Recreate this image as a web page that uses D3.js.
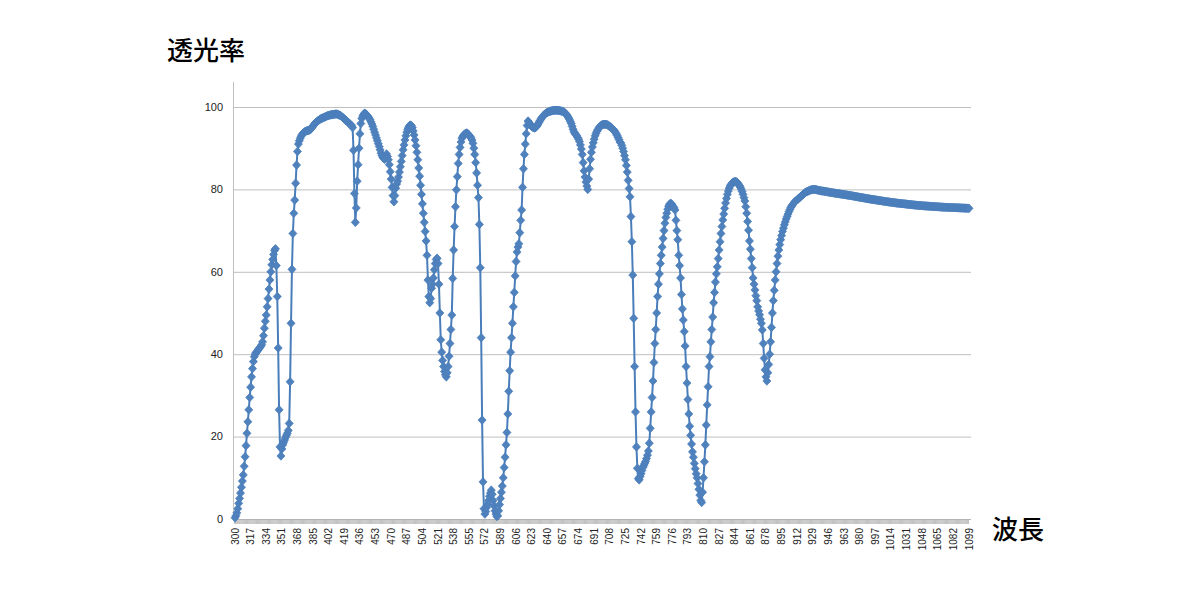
<!DOCTYPE html>
<html><head><meta charset="utf-8">
<script src="https://cdn.jsdelivr.net/npm/d3@7"></script>
<style>
html,body{margin:0;padding:0;background:#fff;}
svg{display:block;}
</style></head>
<body>
<svg id="chart" width="1199" height="606"></svg>
<script>
// Wavelength categories (nm) and axis texts
const wavelengths = d3.range(300, 1100);
const yTicks = [0, 20, 40, 60, 80, 100];
const yTitle = "透光率";
const xTitle = "波長";

// Transmittance (%) per 1 nm
const T300 = [
0.3,0.8,1.5,2.5,3.8,5,6.3,7.7,9.2,10.7,
12.8,15.1,17.8,20.8,23.6,26.5,29.5,32,34.5,36.5,
38.2,39.4,40,40.4,40.7,41,41.3,41.6,41.9,42.3,
43,44.5,46.3,48,49.5,51.5,53.5,55.8,58,60,
61.7,63,64.2,65.2,65.6,61.5,54,41.5,26.5,17.5,
15.3,17,18,18.6,19.2,19.8,20.3,20.8,21.5,23.2,
33.3,47.5,60.6,69.3,74.2,77.4,81.5,85.9,89.2,91,
91.8,92.4,92.9,93.3,93.6,93.8,94,94.1,94.2,94.3,
94.3,94.4,94.5,94.8,95.1,95.4,95.7,96,96.2,96.4,
96.6,96.8,96.9,97.1,97.2,97.3,97.4,97.5,97.6,97.7];
const T400 = [
97.8,97.9,98,98,98.1,98.1,98.2,98.2,98.2,98.3,
98.3,98.3,98.2,98.1,98,97.9,97.7,97.5,97.3,97.1,
96.9,96.7,96.5,96.3,96.1,95.9,95.7,95.5,95,89.5,
79,72,75.5,82,86,90,93.5,96,97.2,97.8,
98.2,98.5,98.4,98.2,97.9,97.6,97.3,96.9,96.4,95.9,
95.3,94.6,93.9,93.2,92.5,91.8,91.1,90.4,89.6,88.8,
88.2,87.8,87.5,87.3,88,88.6,88,87.2,86,84.3,
82.5,80.5,78.5,77,78.5,80.3,81.3,82,83,84.2,
85.5,86.8,88.2,89.6,90.8,92,93,93.9,94.6,95.1,
95.5,95.6,95.5,95,94.2,93.2,92,90.6,89,87.2];
const T500 = [
85.2,83.2,81,78.8,76.5,74.2,72,69.8,67.5,64,
58,54,52.5,53.5,56,57,58.5,60.5,62,63,
63.3,62,57,50,43.5,40.5,38.5,37,35.8,35,
34.5,35.5,37,39.5,42.6,46,49.5,58.4,65.3,71,
75.8,79.9,83.1,86.3,88.5,90.2,91.5,92.4,92.9,93.2,
93.4,93.6,93.7,93.6,93.4,93.1,92.8,92.5,92,91.2,
90,88.5,86.5,84,81,78,71.5,61,44,24,
9,2.5,1.2,1.8,2.8,3.6,4.5,5.5,6.3,7,
6,4.5,3.2,2,1.2,0.6,0.8,2,3.5,5,
6.5,8,10,12.5,15,18,21,25.5,31,36];
const T600 = [
40.5,44,47.5,51.5,55,59,62.5,64.8,66,66.8,
69.5,72.5,75,80.5,85,88.5,91,93.5,95.5,96.6,
96.3,95.8,95.5,95.3,95.1,95,94.9,95,95.2,95.5,
95.9,96.3,96.7,97.1,97.4,97.7,98,98.2,98.4,98.6,
98.7,98.8,98.9,99,99,99.1,99.1,99.2,99.2,99.2,
99.2,99.2,99.2,99.1,99.1,99,99,98.9,98.8,98.6,
98.4,98.1,97.8,97.4,97,96.5,96,95.3,94.6,94,
93.6,93.3,93,92.6,92.2,91.6,90.8,89.8,88.5,86.5,
84.5,83,81.8,80.8,80,82.5,85,87.3,89,90.3,
91.3,92.2,93,93.6,94.1,94.5,94.9,95.2,95.4,95.6];
const T700 = [
95.7,95.8,95.8,95.8,95.8,95.7,95.6,95.4,95.3,95.1,
94.9,94.7,94.5,94.2,93.9,93.5,93.1,92.6,92.1,91.5,
91.3,90.7,90,89.2,88.2,87.2,85.8,84.2,82.2,80.2,
78.2,73.4,67.3,59.2,48.7,37,26,17.5,12.3,9.8,
9.5,10.3,11,11.8,12.5,13,13.5,14,14.7,15.5,
16.5,18.4,22,26,29.5,33.5,38,42.6,46,50,
54,57,59.5,62,64,66,68.1,70,71.8,73.2,
74.2,75.2,75.9,76.4,76.6,76.5,76.2,75.8,75.5,75,
72.5,70,67.8,64,61.5,58.5,54.5,51,48.3,45.5,
42,37,33,29,25.5,22.5,20.3,18.2,16.3,15];
const T800 = [
13.5,12.2,11,10,8.6,7.2,5.8,4.5,4,6.5,
10,13.9,18,22.8,27.7,32.1,37,39.4,43,46,
49,52.5,55,57.5,59.5,61.2,63.2,65.3,67.3,69.3,
71,72.6,74,75.4,76.7,77.8,78.8,79.6,80.3,80.8,
81.2,81.5,81.7,81.8,81.9,81.9,81.8,81.6,81.3,80.9,
80.6,80.1,79.5,78.8,78,77.2,75.8,74.2,72.2,70.1,
67.5,65.5,63.2,61,58.5,57,55.6,54.2,53,51.5,
50.5,49.6,48.5,47.5,45.9,42.6,39,36.2,34.5,33.5,
35.5,37.5,40,43,46.5,50,53,55.5,58,60,
62,63.8,65.3,66.6,67.8,68.8,69.8,70.6,71.4,72.1];
const T900 = [
72.8,73.4,74,74.6,75.1,75.6,76,76.3,76.6,76.9,
77.1,77.3,77.5,77.7,77.9,78.1,78.3,78.5,78.7,78.9,
79.1,79.3,79.4,79.5,79.6,79.7,79.8,79.9,79.9,80,
80,80,79.95,79.9,79.85,79.8,79.75,79.7,79.65,79.6,
79.6,79.56,79.52,79.48,79.44,79.4,79.36,79.32,79.28,79.24,
79.2,79.17,79.13,79.1,79.06,79.03,78.99,78.96,78.92,78.89,
78.85,78.82,78.78,78.75,78.71,78.68,78.64,78.61,78.57,78.54,
78.5,78.46,78.42,78.38,78.34,78.3,78.26,78.22,78.18,78.14,
78.1,78.06,78.02,77.98,77.94,77.9,77.86,77.82,77.78,77.74,
77.7,77.67,77.63,77.6,77.56,77.53,77.49,77.46,77.42,77.39];
const T1000 = [
77.35,77.32,77.28,77.25,77.21,77.18,77.14,77.11,77.07,77.04,
77,76.97,76.94,76.91,76.88,76.85,76.82,76.79,76.76,76.73,
76.7,76.68,76.65,76.63,76.6,76.58,76.55,76.53,76.5,76.48,
76.45,76.43,76.4,76.38,76.35,76.33,76.3,76.28,76.25,76.23,
76.2,76.18,76.16,76.14,76.12,76.1,76.08,76.06,76.04,76.02,
76,75.99,75.97,75.96,75.94,75.93,75.91,75.9,75.88,75.87,
75.85,75.84,75.82,75.81,75.79,75.78,75.76,75.75,75.73,75.72,
75.7,75.69,75.68,75.67,75.66,75.65,75.64,75.63,75.62,75.61,
75.6,75.59,75.58,75.57,75.56,75.55,75.54,75.53,75.52,75.51,
75.5,75.49,75.48,75.47,75.46,75.45,75.44,75.43,75.42,75.4];

const transmittance = [].concat(T300, T400, T500, T600, T700, T800, T900, T1000);
const data = wavelengths.map((w, i) => ({ w, v: transmittance[i] }))
  .filter(d => d.v !== undefined);

const svg = d3.select("#chart");
const plotLeft = 233, plotRight = 971, plotTop = 82;

const x = d3.scalePoint().domain(wavelengths).range([235, 969]);
const y = d3.scaleLinear().domain([0, 100]).range([519, 107]);

// gridlines
svg.append("g").selectAll("line").data(yTicks.filter(t => t > 0)).join("line")
  .attr("x1", plotLeft).attr("x2", plotRight)
  .attr("y1", d => y(d) + 0.5).attr("y2", d => y(d) + 0.5)
  .attr("stroke", "#bfbfbf").attr("stroke-width", 1);

// y axis line
svg.append("line").attr("x1", plotLeft + 0.5).attr("x2", plotLeft + 0.5)
  .attr("y1", plotTop).attr("y2", y(0))
  .attr("stroke", "#bfbfbf");

// y tick labels
svg.append("g").selectAll("text").data(yTicks).join("text")
  .attr("x", 223).attr("y", d => y(d)).attr("dy", "0.35em")
  .attr("text-anchor", "end")
  .attr("font-family", "Liberation Sans, Arial, sans-serif")
  .attr("font-size", 11).attr("fill", "#222")
  .text(d => d);

// x axis: dense category tick marks
const step = x.step();
svg.append("g").selectAll("line").data(wavelengths).join("line")
  .attr("x1", d => x(d) - step / 2).attr("x2", d => x(d) - step / 2)
  .attr("y1", y(0)).attr("y2", y(0) + 5)
  .attr("stroke", "#b4b4b4").attr("stroke-width", 0.8);
svg.append("line").attr("x1", plotLeft).attr("x2", plotRight)
  .attr("y1", y(0) + 0.5).attr("y2", y(0) + 0.5).attr("stroke", "#b4b4b4");

// x tick labels, every 17th category, rotated
const xLabels = wavelengths.filter((d, i) => i % 17 === 0);
svg.append("g").selectAll("text").data(xLabels).join("text")
  .attr("transform", d => `translate(${x(d) + 3.5},528) rotate(-90)`)
  .attr("text-anchor", "end")
  .attr("font-family", "Liberation Sans, Arial, sans-serif")
  .attr("font-size", 10).attr("fill", "#222")
  .text(d => d);

// line
const line = d3.line().x(d => x(d.w)).y(d => y(d.v));
svg.append("path").datum(data)
  .attr("d", line).attr("fill", "none")
  .attr("stroke", "#4A7EBB").attr("stroke-width", 2)
  .attr("stroke-linejoin", "round");

// diamond markers
const diamond = "M0,-4.3L4,0L0,4.3L-4,0Z";
svg.append("g").selectAll("path").data(data).join("path")
  .attr("d", diamond)
  .attr("transform", d => `translate(${x(d.w)},${y(d.v)})`)
  .attr("fill", "#4F81BD").attr("stroke", "#4A7EBB").attr("stroke-width", 0.75);

// axis titles
svg.append("text").attr("x", 167).attr("y", 60)
  .attr("font-family", "Noto Sans CJK JP, sans-serif")
  .attr("font-size", 26).attr("font-weight", 500).attr("fill", "#000")
  .text(yTitle);
svg.append("text").attr("x", 992).attr("y", 539)
  .attr("font-family", "Noto Sans CJK JP, sans-serif")
  .attr("font-size", 26).attr("font-weight", 500).attr("fill", "#000")
  .text(xTitle);
</script>
</body></html>
